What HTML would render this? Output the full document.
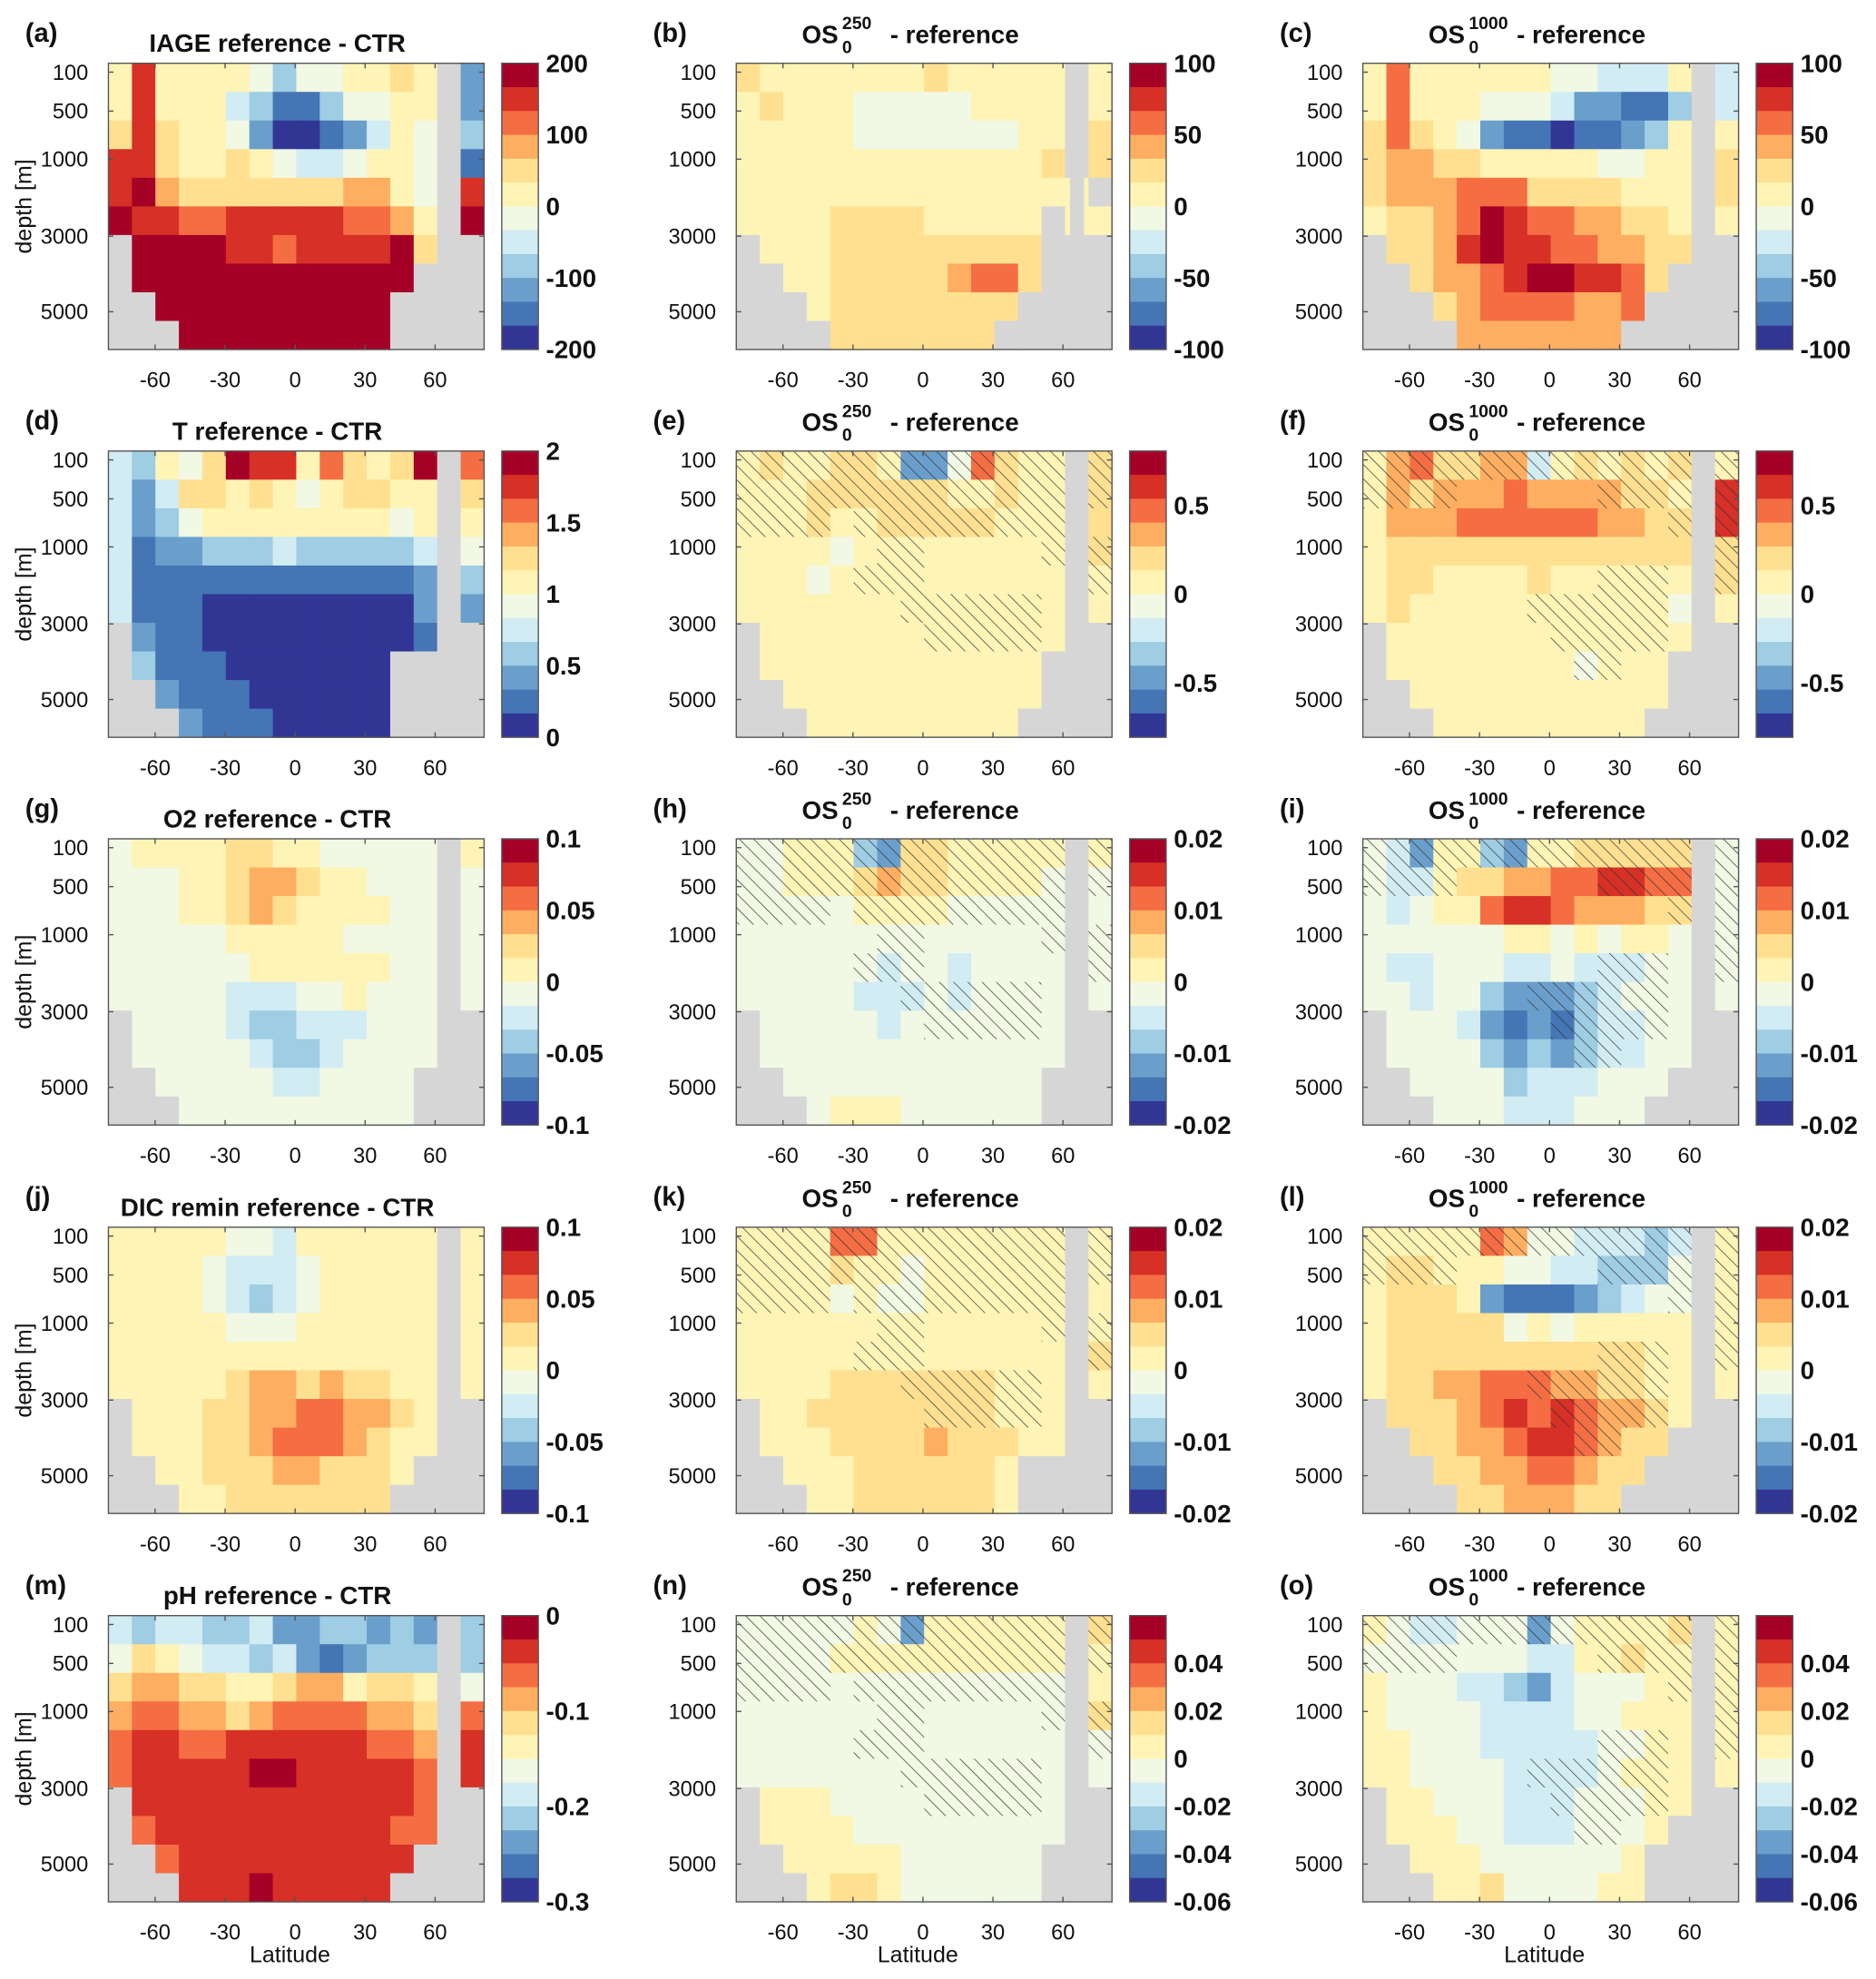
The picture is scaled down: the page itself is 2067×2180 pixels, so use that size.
<!DOCTYPE html>
<html><head><meta charset="utf-8">
<style>
html,body{margin:0;padding:0;background:#fff;}
svg{display:block;font-family:"Liberation Sans Narrow","Liberation Sans",sans-serif;}
</style></head>
<body>
<svg id="fig" width="2067" height="2180" viewBox="0 0 1488 1569" xmlns="http://www.w3.org/2000/svg">
<defs>
<pattern id="hatch" width="8" height="8" patternUnits="userSpaceOnUse" patternTransform="rotate(-45)">
<line x1="0" y1="0" x2="0" y2="8" stroke="#333" stroke-width="1"/>
</pattern>
</defs>
</svg>
<script>
const colors = ["#313695","#4575b4","#6a9fcc","#9ecde4","#d2ecf4","#f1f8e3","#fdf4b6","#fee090","#fdae61","#f46d43","#d73027","#a50026"];
const levelChars = "abcdefghijkl";
const latEdges = [-80, 81];
const depthTicks = [100, 500, 1000, 3000, 5000];
const depthTickFrac = [0.031, 0.167, 0.335, 0.604, 0.868];
const latTicks = [-60, -30, 0, 30, 60];

const gridA = ["gkggggfdffgghgxc","gkgggedbbdffggxc","hkhggfcaabcegfxd","kkhgghgfeefggfxb","klihhhhhhhiigfxk","lkkjjkkkkkjjigxl","xllllkkjkkkklhxx","xllllllllllllxxx","xxllllllllllxxxx","xxxlllllllllxxxx"];
const gridB = ["hggggggghgggggxg","ghgggfffffggggxg","gggggfffffffggxh","ggggggggggggghxh","gggggggggggggggx","gggghhhhgggggxgg","xggghhhhhhhhhxxx","xxgghhhhhijjhxxx","xxxghhhhhhhhxxxx","xxxxhhhhhhhxxxxx"];
const gridC = ["gjggggggffeeegxe","gjgggfffeccbbdxe","hjhgfcbbabbcdgxg","hiihhgggggffggxh","hiiijjjhhhhgggxh","ghhijlkjjiihhgxg","xhhiklkkjjiihhxx","xxhiijkllkkjhxxx","xxxhijjjjiijxxxx","xxxxiiiiiiixxxxx"];
const gridD = ["edgfhlkkgjhghlxj","ecehhghgfghhggxh","ecdfggggggggfgxg","ebccdddedddddexf","ebbbbbbbbbbbbcxd","ebbbaaaaaaaaacxc","xcbbaaaaaaaaabxx","xdbbbaaaaaaaxxxx","xxcbbbaaaaaaxxxx","xxxcbbbaaaaaxxxx"];
const gridE = ["ghgghhgccfjhggxh","ggghhhhhhgghggxh","ggghgghhhhhgggxh","ggggfgggggggggxh","gggfggggggggggxg","ggggggggggggggxg","xgggggggggggggxx","xggggggggggggxxx","xxgggggggggggxxx","xxxgggggggggxxxx"];
const gridF = ["gijhhiieghghghxg","gihiiijiiiihhgxk","giiijjjjjjiihhxk","ghhhhhhhhhhhhhxh","ghhgggghggggggxh","ghgggggggggggfxg","xgggggggggggggxx","xggggggggfgggxxx","xxgggggggggggxxx","xxxgggggggggxxxx"];
const gridG = ["fgggghhggfffffxg","fffgghiihggfffxf","fffgghihggggffxf","fffffgggggffffxf","ffffffggggggffxf","fffffeeeffgfffxf","xffffeddeeefffxx","xfffffeddeffffxx","xxfffffeeffffxxx","xxxffffffffffxxx"];
const gridH = ["ffgggdchhgggggxg","ffggghihhggggfxf","fffffggggfffffxf","ffffffffffffffxf","ffffffeffeffffxf","fffffeeefeffffxf","xfffffefffffffxx","xfffffffffffffxx","xxfffffffffffxxx","xxxfgggffffffxxx"];
const gridI = ["fecggdcgghhhhhxf","feeghhiijjkkjjxf","fefggjkkjiiihhxf","ffffffggfgfggfxf","feefffeefeeeffxf","ffeffdcccdefffxf","xfffecbcbdeeffxx","xffffdcdcdeeffxx","xxffffdeeefffxxx","xxxfffeeefffxxxx"];
const gridJ = ["gggggffeggggggxg","ggggfeeefgggggxg","ggggfedefgggggxg","gggggfffggggggxg","ggggggggggggggxg","ggggghiihihhggxg","xggghhiijjiihgxx","xggghhijjjihggxx","xxgghhhiihhhgxxx","xxxgghhhhhhhxxxx"];
const gridK = ["ggggjjggggggggxg","gggghggfggggggxg","ggggfgffggggggxg","ggggggggggggggxg","ggggggggggggggxh","gggghhhhhhhgggxg","xgghhhhhhhhgggxx","xggghhhhihhhggxx","xxggghhhhhhgxxxx","xxxgghhhhhhgxxxx"];
const gridL = ["gggggjiffeeedexg","ghhgggffeedddfxg","ghhhgcbbbcdeffxg","ghhhhhfgfgggggxg","ghhhhhhhhhhhggxg","ghhiijjjiihhggxg","xhhhijkjkjiihgxx","xxhhiijkkjihhxxx","xxxhhiijjihhxxxx","xxxxhhiiihhxxxxx"];
const gridM = ["edeeddeccddcdcxd","fhgfeedecbcdddxd","hiihhgghiighhgxf","ijjiihijjjjiihxj","jkkjjkkkkkkjjixk","jkkkkkllkkkkkjxk","xkkkkkkkkkkkkjxx","xjkkkkkkkkkkjjxx","xxjkkkkkkkkkkxxx","xxxkkklkkkkkxxxx"];
const gridN = ["fffffgfcggggggxh","ffffggggggggggxg","ffffffffffffffxg","ffffffffffffffxh","ffffffffffffffxf","ffffffffffffffxf","xgggffffffffffxx","xggggfffffffffxx","xxgggggffffffxxx","xxxghhgffffffxxx"];
const gridO = ["gfeefffcfgggghxg","fffffffeegghggxg","gfffeedcefffggxg","gffffeeeeffgggxg","ggfffeeeeeffggxg","ggffffeeeefgggxg","xggfffeeefffggxx","xgggffeeefffgxxx","xxgggffffffgxxxx","xxxgghffffggxxxx"];

const hatch250 = ["1111111111111111","1111111111111111","1111011111111110","0000001100000111","0000011100000011","0000000111111000","0000000011111000","0000000000000000","0000000000000000","0000000000000000"];
const hatch1000 = ["1111111111111111","1111000000111111","0000000000000111","0000000000000011","0000000000111011","0000000111111000","0000000011111000","0000000001100000","0000000000000000","0000000000000000"];

const cbA = ["200","100","0","-100","-200"], cbAf=[0,0.25,0.5,0.75,1];
const cbB = ["100","50","0","-50","-100"];
const cbD = ["2","1.5","1","0.5","0"];
const cbE = ["0.5","0","-0.5"], cbEf=[0.19,0.5,0.81];
const cbG = ["0.1","0.05","0","-0.05","-0.1"];
const cbH = ["0.02","0.01","0","-0.01","-0.02"];
const cbM = ["0","-0.1","-0.2","-0.3"], cbMf=[0,0.333,0.667,1];
const cbN = ["0.04","0.02","0","-0.02","-0.04","-0.06"], cbNf=[0.167,0.333,0.5,0.667,0.833,1];

const panels = [
 {id:"a",title:"IAGE reference - CTR",grid:gridA,cb:cbA,cbf:cbAf,hatch:null},
 {id:"b",os:"250",grid:gridB,cb:cbB,cbf:cbAf,hatch:null},
 {id:"c",os:"1000",grid:gridC,cb:cbB,cbf:cbAf,hatch:null},
 {id:"d",title:"T reference - CTR",grid:gridD,cb:cbD,cbf:cbAf,hatch:null},
 {id:"e",os:"250",grid:gridE,cb:cbE,cbf:cbEf,hatch:hatch250},
 {id:"f",os:"1000",grid:gridF,cb:cbE,cbf:cbEf,hatch:hatch1000},
 {id:"g",title:"O2 reference - CTR",grid:gridG,cb:cbG,cbf:cbAf,hatch:null},
 {id:"h",os:"250",grid:gridH,cb:cbH,cbf:cbAf,hatch:hatch250},
 {id:"i",os:"1000",grid:gridI,cb:cbH,cbf:cbAf,hatch:hatch1000},
 {id:"j",title:"DIC remin reference - CTR",grid:gridJ,cb:cbG,cbf:cbAf,hatch:null},
 {id:"k",os:"250",grid:gridK,cb:cbH,cbf:cbAf,hatch:hatch250},
 {id:"l",os:"1000",grid:gridL,cb:cbH,cbf:cbAf,hatch:hatch1000},
 {id:"m",title:"pH reference - CTR",grid:gridM,cb:cbM,cbf:cbMf,hatch:null},
 {id:"n",os:"250",grid:gridN,cb:cbN,cbf:cbNf,hatch:hatch250},
 {id:"o",os:"1000",grid:gridO,cb:cbN,cbf:cbNf,hatch:hatch1000}
];

const NS="http://www.w3.org/2000/svg";
const svg=document.getElementById("fig");
function mk(tag,attrs,parent){const e=document.createElementNS(NS,tag);for(const k in attrs)e.setAttribute(k,attrs[k]);(parent||svg).appendChild(e);return e;}
function txt(s,attrs,parent){const e=mk("text",attrs,parent);e.textContent=s;return e;}

const colX=[86,584,1081], rowY=[50,357.5,665,973,1281], PW=298, PH=227;
panels.forEach((p,idx)=>{
  const col=idx%3,row=Math.floor(idx/3);
  const x0=colX[col],y0=rowY[row];
  const g=mk("g",{});
  
  
  const nR=p.grid.length,nC=p.grid[0].length;
  const xScale=lat=>x0+(lat-latEdges[0])/(latEdges[1]-latEdges[0])*PW;
  const cw=PW/nC,ch=PH/nR;
  const cells=mk("g",{},g);
  
  
  for(let r=0;r<nR;r++){for(let c=0;c<nC;c++){
    const ch_=p.grid[r][c]||'x';
    const li=levelChars.indexOf(ch_);
    const fill=li<0?"#d6d6d6":colors[li];
    const rc=mk("rect",{x:(x0+c*cw).toFixed(2),y:(y0+r*ch).toFixed(2),width:(cw+0.4).toFixed(2),height:(ch+0.4).toFixed(2),fill:fill},cells);
    
    
  }}
  const strip=mk("rect",{x:xScale(63),y:y0+4,width:xScale(69)-xScale(63),height:PH-4,fill:"#d6d6d6"},g);
  
  
  if(p.hatch){
    const hg=mk("g",{},g);
    
    
    for(let r=0;r<nR;r++)for(let c=0;c<nC;c++){
      if(p.hatch[r][c]==='1'&&p.grid[r][c]!=='x'){
        mk("rect",{x:(x0+c*cw).toFixed(2),y:(y0+r*ch).toFixed(2),width:cw.toFixed(2),height:ch.toFixed(2),fill:"url(#hatch)"},hg);
      }
    }
  }
  const fr=mk("rect",{x:x0,y:y0,width:PW,height:PH,fill:"none",stroke:"#555","stroke-width":1},g);
  
  
  depthTicks.forEach((d,i)=>{
    const y=y0+depthTickFrac[i]*PH;
    mk("line",{x1:x0,x2:x0+4,y1:y,y2:y,stroke:"#555"},g);
    mk("line",{x1:x0+PW-4,x2:x0+PW,y1:y,y2:y,stroke:"#555"},g);
    const t=txt(String(d),{x:x0-16,y:y+6,"text-anchor":"end","font-size":17,fill:"#111"},g);
    
    
  });
  latTicks.forEach(l=>{
    const x=xScale(l);
    mk("line",{x1:x,x2:x,y1:y0+PH,y2:y0+PH-4,stroke:"#555"},g);
    mk("line",{x1:x,x2:x,y1:y0,y2:y0+4,stroke:"#555"},g);
    const t=txt(String(l),{x:x,y:y0+PH+30,"text-anchor":"middle","font-size":17,fill:"#111"},g);
    
    
  });
  if(col===0){
    const t=txt("depth [m]",{x:0,y:0,transform:`translate(25,${y0+PH/2}) rotate(-90)`,"text-anchor":"middle","font-size":18,"font-family":"Liberation Sans, sans-serif",fill:"#111"},g);
    
    
  }
  if(row===4){
    const t=txt("Latitude",{x:x0+PW/2-5,y:1556,"text-anchor":"middle","font-size":18,"font-family":"Liberation Sans, sans-serif",fill:"#111"},g);
    
    
  }
  const pl=txt("("+p.id+")",{x:x0-66,y:y0-17,"font-size":21,"font-weight":"bold",fill:"#111"},g);
  
  
  if(p.title){
    const t=txt(p.title,{x:x0+134,y:y0-9,"text-anchor":"middle","font-size":20,"font-weight":"bold",fill:"#111"},g);
    
    
  } else {
    const tg=mk("g",{},g);
    
    
    txt("OS",{x:x0+52,y:y0-16,"font-size":20,"font-weight":"bold",fill:"#111"},tg);
    txt(p.os,{x:x0+84,y:y0-27,"font-size":14,"font-weight":"bold",fill:"#111"},tg);
    txt("0",{x:x0+84,y:y0-8,"font-size":14,"font-weight":"bold",fill:"#111"},tg);
    txt("- reference",{x:x0+122,y:y0-16,"font-size":20,"font-weight":"bold",fill:"#111"},tg);
  }
  const cbx=x0+312,cbw=29;
  const cb=mk("g",{},g);
  
  
  const nL=colors.length,lh=PH/nL;
  for(let i=0;i<nL;i++){
    mk("rect",{x:cbx,y:(y0+i*lh).toFixed(2),width:cbw,height:(lh+0.3).toFixed(2),fill:colors[nL-1-i]},cb);
  }
  mk("rect",{x:cbx,y:y0,width:cbw,height:PH,fill:"none",stroke:"#555"},cb);
  p.cb.forEach((lab,i)=>{
    const y=y0+p.cbf[i]*PH;
    const t=txt(lab,{x:cbx+cbw+6,y:y+7,"font-size":20,"font-weight":"bold",fill:"#111"},cb);
    
    
  });
});
</script>
</body></html>
